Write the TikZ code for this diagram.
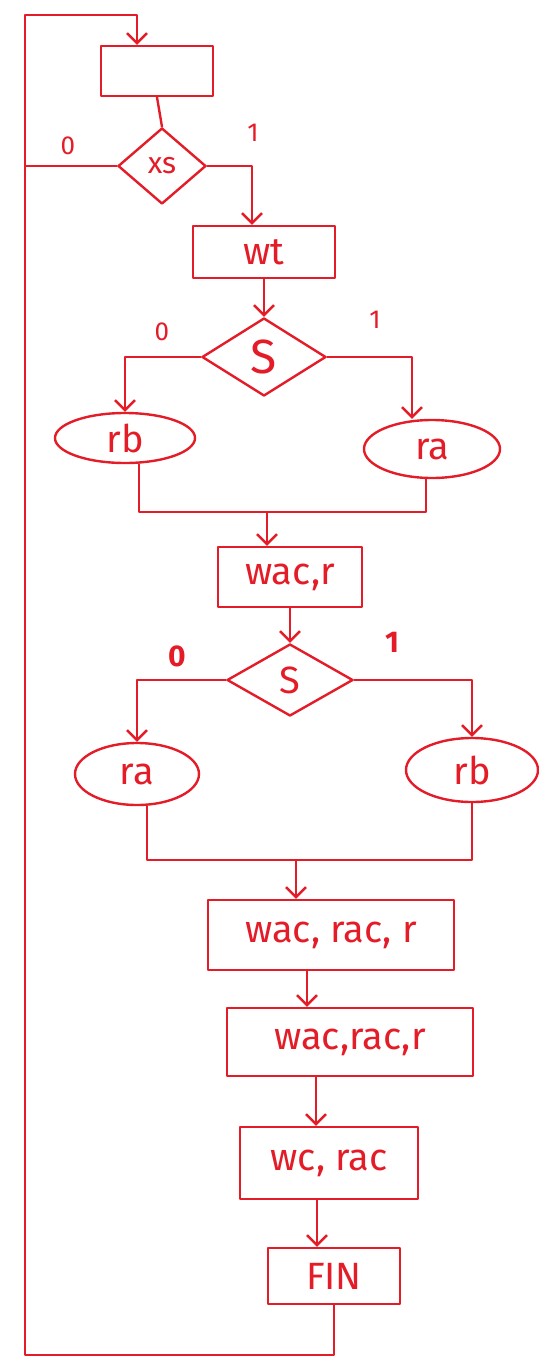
\documentclass[tikz,border=0pt]{standalone}
\usepackage{fontspec}
\setmainfont{Fira Sans}
\usetikzlibrary{shapes.geometric,arrows.meta}
\definecolor{ink}{RGB}{228,28,40}
\begin{document}
\begin{tikzpicture}[x=0.5pt,y=-0.5pt,
  every node/.style={text=ink},
  line/.style={draw=ink,line width=1.2pt,line cap=round,line join=round},
  arr/.style={line,-{Straight Barb[length=5pt,width=10pt]}},
  txt/.style={font=\fontsize{19}{22}\selectfont},
  proc/.style={line,txt,rectangle,inner sep=0pt},
  test/.style={line,txt,diamond,inner sep=0pt},
  term/.style={line,txt,ellipse,inner sep=0pt},
  lbl/.style={font=\fontsize{13}{15}\selectfont},
  lblb/.style={font=\bfseries\fontsize{15}{17}\selectfont}
]
\useasboundingbox (0,0) rectangle (539,1360);

% main column
\node[proc, minimum width=56pt, minimum height=25pt] (top) at (157,71) {};
\node[test, minimum width=44pt, minimum height=38pt, font=\fontsize{15}{17}\selectfont] (xs) at (162,166) {xs};
\node[proc, minimum width=71pt, minimum height=26pt] (wt) at (264,252) {wt};
\node[test, minimum width=62pt, minimum height=39pt, font=\fontsize{24}{26}\selectfont] (s1) at (264,357) {S};
\node[term, minimum width=70pt, minimum height=25pt] (rb1) at (125,438) {rb};
\node[term, minimum width=68pt, minimum height=29pt] (ra1) at (432,449) {ra};
\node[proc, minimum width=72pt, minimum height=30pt] (wac) at (290,577) {wac,r};
\node[test, minimum width=63pt, minimum height=36pt] (s2) at (290,680) {S};
\node[term, minimum width=62pt, minimum height=31pt] (ra2) at (137,774) {ra};
\node[term, minimum width=66pt, minimum height=32pt] (rb2) at (472,770) {rb};
\node[proc, minimum width=123pt, minimum height=35pt] (b3) at (331,935) {wac, rac, r};
\node[proc, minimum width=123pt, minimum height=34pt] (b4) at (350,1042) {wac,rac,r};
\node[proc, minimum width=89pt, minimum height=36pt] (b5) at (329,1163) {wc, rac};
\node[proc, minimum width=66pt, minimum height=28pt] (fin) at (334,1276) {FIN};

% branch labels
\node[lbl] (l0a) at (68,146) {0};
\node[lbl] (l1a) at (253,133) {1};
\node[lbl] (l0b) at (162,332) {0};
\node[lbl] (l1b) at (375,320) {1};
\node[lblb] (l0c) at (177,656) {0};
\node[lblb] (l1c) at (392,642) {1};

% loop corners and merge points
\coordinate (lb) at (25,1355);
\coordinate (lt) at (25,15);
\coordinate (m1) at (267,512);
\coordinate (m2) at (296,860);

% return loop
\draw[arr] (fin.south) |- (lb) -- (lt) -| ([xshift=-10pt]top.north);
\draw[line] (xs.west) -- (xs.west -| lt);
\draw[line] (top.south) -- (xs.north);

% first test
\draw[arr] (xs.east) -| ([xshift=-6pt]wt.north);
\draw[arr] (wt.south) -- (s1.north);
\draw[arr] (s1.west) -| (rb1.north);
\draw[arr] (s1.east) -| ([xshift=-10pt]ra1.north);
\draw[line] ([xshift=7pt]rb1.south) |- (m1) -| ([xshift=-3pt]ra1.south);
\draw[arr] (m1) -- (m1 |- wac.north);

% second test
\draw[arr] (wac.south) -- (s2.north);
\draw[arr] (s2.west) -| (ra2.north);
\draw[arr] (s2.east) -| (rb2.north);
\draw[line] ([xshift=5pt]ra2.south) |- (m2) -| (rb2.south);
\draw[arr] (m2) -- (m2 |- b3.north);

% final sequence
\draw[arr] ([xshift=-12pt]b3.south) -- ([xshift=-12pt]b3.south |- b4.north);
\draw[arr] ([xshift=-17pt]b4.south) -- ([xshift=-17pt]b4.south |- b5.north);
\draw[arr] ([xshift=-6pt]b5.south) -- ([xshift=-6pt]b5.south |- fin.north);
\end{tikzpicture}
\end{document}
